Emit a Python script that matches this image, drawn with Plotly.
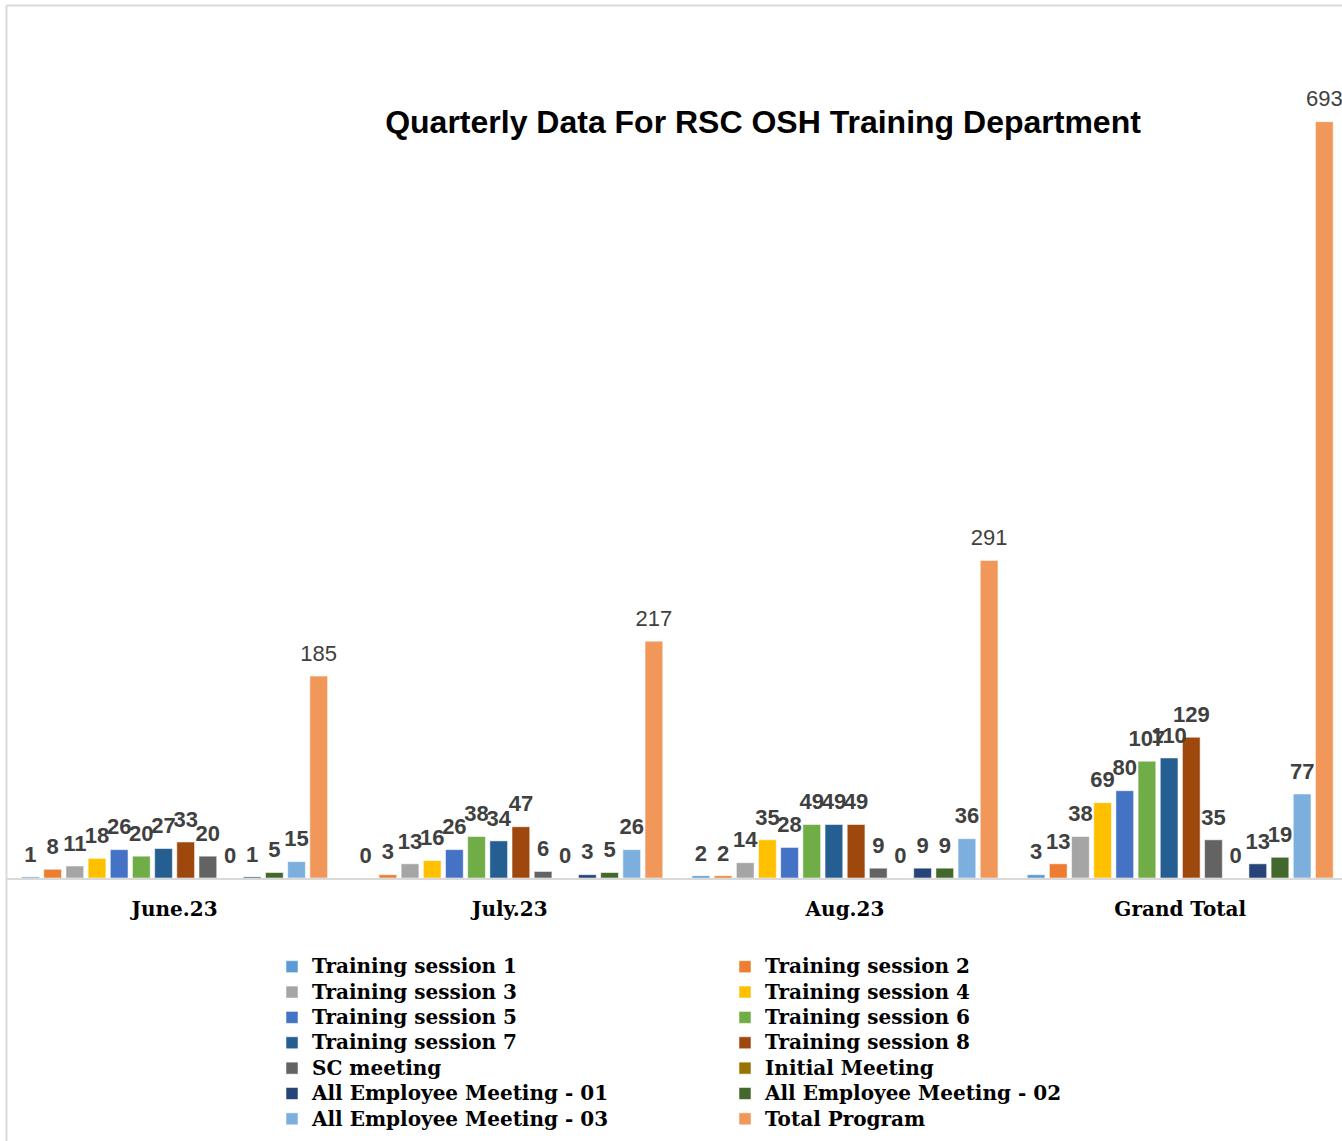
import plotly.graph_objects as go

categories = ["June.23", "July.23", "Aug.23", "Grand Total"]

training_session_1 = [1, 0, 2, 3]
training_session_2 = [8, 3, 2, 13]
training_session_3 = [11, 13, 14, 38]
training_session_4 = [18, 16, 35, 69]
training_session_5 = [26, 26, 28, 80]
training_session_6 = [20, 38, 49, 107]
training_session_7 = [27, 34, 49, 110]
training_session_8 = [33, 47, 49, 129]
sc_meeting = [20, 6, 9, 35]
initial_meeting = [0, 0, 0, 0]
all_employee_meeting_01 = [1, 3, 9, 13]
all_employee_meeting_02 = [5, 5, 9, 19]
all_employee_meeting_03 = [15, 26, 36, 77]
total_program = [185, 217, 291, 693]

series = [
    ("Training session 1", training_session_1, "#5B9BD5"),
    ("Training session 2", training_session_2, "#ED7D31"),
    ("Training session 3", training_session_3, "#A5A5A5"),
    ("Training session 4", training_session_4, "#FFC000"),
    ("Training session 5", training_session_5, "#4472C4"),
    ("Training session 6", training_session_6, "#70AD47"),
    ("Training session 7", training_session_7, "#255E91"),
    ("Training session 8", training_session_8, "#9E480E"),
    ("SC meeting", sc_meeting, "#636363"),
    ("Initial Meeting", initial_meeting, "#997300"),
    ("All Employee Meeting - 01", all_employee_meeting_01, "#264478"),
    ("All Employee Meeting - 02", all_employee_meeting_02, "#43682B"),
    ("All Employee Meeting - 03", all_employee_meeting_03, "#7CAFDD"),
    ("Total Program", total_program, "#F1975A"),
]

W, H = 1342, 1141
ML, MR, MT, MB = 7, 0, 40, 263
BARGAP = 0.074

fig = go.Figure()
for name, vals, color in series:
    fig.add_trace(go.Bar(
        x=categories, y=vals,
        name='<span style="font-size:20px">' + name + '</span>',
        offsetgroup=name,
        marker=dict(color=color, line=dict(width=0.75, color="rgba(255,255,255,0.7)")),
        hoverinfo="x+y",
    ))

for name, vals, color in series:
    is_total = name == "Total Program"
    fig.add_trace(go.Scatter(
        x=categories, y=vals, mode="markers+text", offsetgroup=name,
        text=[str(v) for v in vals], textposition="top center",
        marker=dict(size=14, color="rgba(0,0,0,0)"),
        textfont=dict(family="Liberation Sans, Arial, sans-serif", size=22,
                      color="#404040", weight="normal" if is_total else "bold"),
        showlegend=False, hoverinfo="skip", cliponaxis=False,
    ))

plot_h = H - MT - MB
plot_w = W - ML - MR
px_per_cat = 335.2
x_range = [-0.5, -0.5 + plot_w / px_per_cat]
px_per_unit = 756.3 / 693
y_max = plot_h / px_per_unit

def px_to_paper_x(px):
    return (px - ML) / plot_w

def px_to_paper_y(py):
    return (H - MB - py) / plot_h

fig.update_layout(
    width=W, height=H,
    margin=dict(l=ML, r=MR, t=MT, b=MB, pad=0),
    paper_bgcolor="white", plot_bgcolor="white",
    barmode="group", bargap=BARGAP, bargroupgap=0.20,
    scattermode="group", scattergap=BARGAP,
    title=dict(
        text="Quarterly Data For RSC OSH Training Department",
        font=dict(family="Liberation Sans, Arial, sans-serif", size=32, color="black", weight="bold"),
        x=763 / W, xanchor="center", xref="container",
        y=1 - 122 / H, yanchor="middle", yref="container",
    ),
    xaxis=dict(
        type="category", range=x_range, showgrid=False, zeroline=False,
        showline=True, linecolor="#D9D9D9", linewidth=2, ticks="",
        tickfont=dict(family="DejaVu Serif, serif", size=20, color="black", weight="bold"),
        ticklabelstandoff=12, fixedrange=True,
    ),
    yaxis=dict(range=[0, y_max], visible=False, fixedrange=True),
    legend=dict(
        orientation="h", traceorder="normal",
        xref="container", x=272 / W, xanchor="left",
        yref="container", y=1 - 949 / H, yanchor="top",
        entrywidth=408, entrywidthmode="pixels",
        font=dict(family="DejaVu Serif, serif", size=17.2, color="black", weight="bold"),
        bgcolor="rgba(0,0,0,0)", itemclick=False, itemdoubleclick=False,
    ),
    shapes=[
        dict(type="line", xref="paper", yref="paper",
             x0=px_to_paper_x(6.5), x1=px_to_paper_x(6.5),
             y0=px_to_paper_y(5.5), y1=px_to_paper_y(H),
             line=dict(color="#D9D9D9", width=2)),
        dict(type="line", xref="paper", yref="paper",
             x0=px_to_paper_x(6.5), x1=px_to_paper_x(W),
             y0=px_to_paper_y(5.5), y1=px_to_paper_y(5.5),
             line=dict(color="#D9D9D9", width=2)),
    ],
)

fig.write_html("out.html", config={"displayModeBar": False},
               post_script="document.body.style.margin='0';")
